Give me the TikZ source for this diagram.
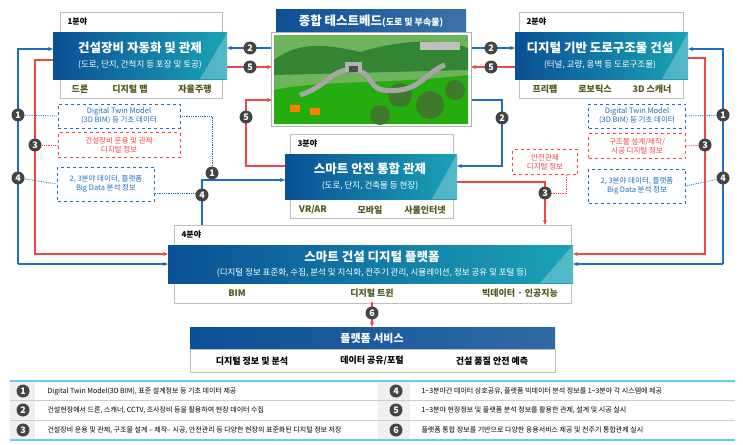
\documentclass[tikz,border=0pt]{standalone}
\usepackage{fontspec}
\setmainfont{Noto Sans CJK KR}
\usetikzlibrary{arrows.meta}
\definecolor{cblue}{HTML}{1F6FC0}
\definecolor{cred}{HTML}{F0464A}
\definecolor{dark}{HTML}{0B4F95}
\definecolor{teal}{HTML}{1AA3B5}
\definecolor{olive}{HTML}{4A5A1E}
\definecolor{gr}{HTML}{444444}
\definecolor{tree}{HTML}{3E7A2A}
\tikzset{
 px/.style={x=1pt,y=-1pt},
 frame/.style={draw=gray!50,fill=white,line width=0.8pt},
 bar/.style={left color=dark,right color=teal,draw=none},
 num/.style={circle,fill=gr,text=white,font=\bfseries\fontsize{9}{9}\selectfont,inner sep=0pt,minimum size=13pt},
 bl/.style={cblue,line width=1.2pt},
 rd/.style={cred,line width=1.2pt},
 arr/.style={-{Stealth[length=5pt,width=4pt]}},
 dbox/.style={draw,dashed,fill=white,align=center,font=\fontsize{7.5}{9}\selectfont,inner sep=1pt},
 dl/.style={densely dotted,line width=0.8pt},
 item/.style={text=olive,font=\bfseries\fontsize{9}{10}\selectfont},
 lab/.style={font=\bfseries\fontsize{8}{8}\selectfont,anchor=west},
 title/.style={text=white,font=\bfseries\fontsize{12.5}{13}\selectfont},
 sub/.style={text=white,font=\fontsize{8.5}{9}\selectfont},
}
\begin{document}
\begin{tikzpicture}[px]
\useasboundingbox (0,0) rectangle (743,444);
\fill[white] (0,0) rectangle (743,444);
% ---- connectors left
\draw[bl,arr] (18,264) -- (18,49) -- (53,49);
\draw[bl,arr] (18,264) -- (168,264);
\draw[rd,arr] (53,60) -- (35,60) -- (35,254) -- (168,254);
% right
\draw[bl,arr] (723,264) -- (723,49) -- (688,49);
\draw[bl,arr] (723,264) -- (573,264);
\draw[rd,arr] (688,58) -- (705,58) -- (705,254) -- (573,254);
% box1 <-> testbed
\draw[bl,arr] (272,48) -- (227,48);
\draw[rd,arr] (227,67) -- (272,67);
\draw[rd,arr] (285,166) -- (246,166) -- (246,100) -- (272,100);
% testbed <-> box2
\draw[bl,arr] (471,48) -- (515,48);
\draw[rd,arr] (515,67) -- (471,67);
\draw[bl,arr] (472,100) -- (502,100) -- (502,166) -- (457,166);
% box3 -> box4
\draw[rd,arr] (457,182) -- (545,182) -- (545,225);
\draw[bl,arr] (202,225) -- (202,180) -- (285,180);
% ---- box 1
\node[frame,minimum width=162pt,minimum height=86pt,anchor=north west] (f1) at (60,12) {};
\node[lab,anchor=north west] (l1) at (64,14) {1분야};
\shade[bar] (53,33) rectangle (227,79);
\fill[white,opacity=0.25] (227,33) -- (227,79) -- (200,79) -- cycle;
\node[title] (t1) at (140,48) {건설장비 자동화 및 관제};
\node[sub] (s1) at (140,65) {(도로, 단지, 간척지 등 포장 및 토공)};
\node[item] (i11) at (80,89) {드론};
\node[item] (i12) at (130,89) {디지털 맵};
\node[item] (i13) at (195,89) {자율주행};
% ---- testbed
\shade[left color=dark,right color=dark!80] (276,10) rectangle (466,33);
\node[title] (tb) at (371,21) {종합 테스트베드\fontsize{9}{10}\selectfont(도로 및 부속물)};
\node[draw=gray!60,line width=0.8pt,fill=white,minimum width=200pt,minimum height=94pt,anchor=north west] (img) at (271,32) {};
\begin{scope}
\clip (274,35) rectangle (468,124);
\fill[green!35!olive!70] (274,35) rectangle (468,124);
\fill[green!40!black!80] (274,60) .. controls (300,40) and (330,45) .. (360,52) .. controls (400,40) and (440,38) .. (468,48) -- (468,70) -- (274,75) -- cycle;
\fill[green!50!olive] (274,90) .. controls (320,80) and (380,85) .. (468,75) -- (468,124) -- (274,124) -- cycle;
\fill[tree] (400,95) circle (12pt) (430,105) circle (14pt) (455,90) circle (10pt) (380,115) circle (10pt);
\draw[gray!70,line width=5pt] (300,95) .. controls (330,85) and (330,70) .. (350,70) .. controls (380,70) and (360,95) .. (400,90) .. controls (420,88) and (430,70) .. (445,65);
\fill[gray!60] (345,62) rectangle (362,72);
\fill[black!70] (349,66) rectangle (358,72);
\fill[gray!50] (420,42) rectangle (460,50);
\fill[orange] (290,105) rectangle (300,112);
\fill[orange] (310,108) rectangle (320,115);
\end{scope}
% ---- box 2
\node[frame,minimum width=164pt,minimum height=86pt,anchor=north west] (f2) at (519,12) {};
\node[lab,anchor=north west] (l2) at (523,14) {2분야};
\shade[bar] (515,33) rectangle (688,79);
\fill[white,opacity=0.25] (688,33) -- (688,79) -- (662,79) -- cycle;
\node[title] (t2) at (600,48) {디지털 기반 도로구조물 건설};
\node[sub] (s2) at (600,65) {(터널, 교량, 옹벽 등 도로구조물)};
\node[item] (i21) at (545,89) {프리팹};
\node[item] (i22) at (595,89) {로보틱스};
\node[item] (i23) at (652,89) {3D 스캐너};
% ---- box 3
\node[frame,minimum width=163pt,minimum height=84pt,anchor=north west] (f3) at (290,134) {};
\node[lab,anchor=north west] (l3) at (294,136) {3분야};
\shade[bar] (285,154) rectangle (457,199);
\fill[white,opacity=0.25] (457,154) -- (457,199) -- (432,199) -- cycle;
\node[title] (t3) at (370,169) {스마트 안전 통합 관제};
\node[sub] (s3) at (370,186) {(도로, 단지, 건축물 등 현장)};
\node[item] (i31) at (313,210) {VR/AR};
\node[item] (i32) at (370,210) {모바일};
\node[item] (i33) at (425,210) {사물인터넷};
% ---- box 4
\node[frame,minimum width=397pt,minimum height=78pt,anchor=north west] (f4) at (174,225) {};
\node[lab,anchor=north west] (l4) at (178,227) {4분야};
\shade[bar] (168,245) rectangle (573,283);
\fill[white,opacity=0.25] (573,245) -- (573,283) -- (540,283) -- cycle;
\node[title] (t4) at (372,257) {스마트 건설 디지털 플랫폼};
\node[sub] (s4) at (372,273) {(디지털 정보 표준화, 수집, 분석 및 지식화, 전주기 관리, 시뮬레이션, 정보 공유 및 포털 등)};
\node[item] (i41) at (237,293) {BIM};
\node[item] (i42) at (372,293) {디지털 트윈};
\node[item] (i43) at (520,293) {빅데이터 · 인공지능};
% ---- platform service
\draw[rd,arr] (372,302) -- (372,327);
\node[num] at (372,313) {6};
\shade[left color=dark,right color=dark!85] (190,327) rectangle (555,349);
\node[title,font=\bfseries\fontsize{11}{12}\selectfont] (ps) at (372,338) {플랫폼 서비스};
\node[draw=gray!50,fill=white,minimum width=365pt,minimum height=23pt,anchor=north west] (psb) at (190,349) {};
\node[font=\bfseries\fontsize{9}{10}\selectfont] (p1) at (252,361) {디지털 정보 및 분석};
\node[font=\bfseries\fontsize{9}{10}\selectfont] (p2) at (372,361) {데이터 공유/포털};
\node[font=\bfseries\fontsize{9}{10}\selectfont] (p3) at (492,361) {건설 품질 안전 예측};
% ---- dashed info boxes left
\node[dbox,draw=cblue,text=cblue,minimum width=122pt,minimum height=24pt] (d1) at (119,116) {Digital Twin Model\\(3D BIM) 등 기초 데이터};
\node[dbox,draw=cred,text=cred,minimum width=122pt,minimum height=25pt] (d3) at (119,145) {건설장비 운용 및 관제\\디지털 정보};
\node[dbox,draw=cblue,text=cblue,minimum width=97pt,minimum height=34pt] (d4) at (106,184) {2, 3분야 데이터, 플랫폼\\Big Data 분석 정보};
\draw[cblue,dl] (18,115) -- (d1.west);
\draw[cred,dl] (35,145) -- (d3.west);
\draw[cblue,dl] (18,178) -- (d4.west);
\draw[cblue,dl] (d1.east) -- (212,116) -- (212,173);
\draw[cblue,dl] (155,193) -- (202,193);
\node[num] at (18,115) {1};
\node[num] at (35,145) {3};
\node[num] at (18,178) {4};
\node[num] at (212,173) {1};
\node[num] at (202,195) {4};
% ---- right dashed
\node[dbox,draw=cblue,text=cblue,minimum width=97pt,minimum height=24pt] (r1) at (637,116) {Digital Twin Model\\(3D BIM) 등 기초 데이터};
\node[dbox,draw=cred,text=cred,minimum width=97pt,minimum height=25pt] (r3) at (637,146) {구조물 설계/제작/\\시공 디지털 정보};
\node[dbox,draw=cblue,text=cblue,minimum width=97pt,minimum height=34pt] (r4) at (637,186) {2, 3분야 데이터, 플랫폼\\Big Data 분석 정보};
\draw[cblue,dl] (r1.east) -- (723,115);
\draw[cred,dl] (r3.east) -- (705,145);
\draw[cblue,dl] (r4.east) -- (723,178);
\node[num] at (723,115) {1};
\node[num] at (705,145) {3};
\node[num] at (723,178) {4};
% ---- middle circles
\node[num] at (250,48) {2};
\node[num] at (250,67) {5};
\node[num] at (246,117) {5};
\node[num] at (491,48) {2};
\node[num] at (491,67) {5};
\node[num] at (502,118) {2};
\node[dbox,draw=cred,text=cred,minimum width=65pt,minimum height=25pt] (sd) at (545,162) {안전관제\\디지털 정보};
\draw[cred,dl] (566,175) -- (566,193) -- (545,193);
\node[num] at (545,193) {3};
% ---- legend
\fill[gray!12] (10,381) rectangle (735,440);
\fill[white] (35,383) rectangle (378,439);
\fill[white] (410,383) rectangle (735,439);
\draw[cyan!60,line width=1.2pt] (10,381) -- (735,381);
\draw[cyan!60,line width=1.2pt] (10,440) -- (735,440);
\draw[gray!40] (10,400.5) -- (735,400.5);
\draw[gray!40] (10,420) -- (735,420);
\foreach \n/\y/\t in {1/391/{Digital Twin Model(3D BIM), 표준 설계정보 등 기초 데이터 제공},2/410/{건설현장에서 드론, 스캐너, CCTV, 조사장비 등을 활용하여 현장 데이터 수집},3/430/{건설장비 운용 및 관제, 구조물 설계 – 제작– 시공, 안전관리 등 다양한 현장의 표준화된 디지털 정보 저장}}{
 \node[num,minimum size=13pt] at (23,\y) {\n};
 \node[anchor=west,font=\fontsize{7}{8}\selectfont] at (44,\y) {\t};}
\foreach \n/\y/\t in {4/391/{1\textasciitilde3분야간 데이터 상호공유, 플랫폼 빅데이터 분석 정보를 1\textasciitilde3분야 각 시스템에 제공},5/410/{1\textasciitilde3분야 현장정보 및 플랫폼 분석 정보를 활용한 관제, 설계 및 시공 실시},6/430/{플랫폼 통합 정보를 기반으로 다양한 응용서비스 제공 및 전주기 통합관제 실시}}{
 \node[num,minimum size=13pt] at (396,\y) {\n};
 \node[anchor=west,font=\fontsize{7}{8}\selectfont] at (418,\y) {\t};}
\end{tikzpicture}
\end{document}
